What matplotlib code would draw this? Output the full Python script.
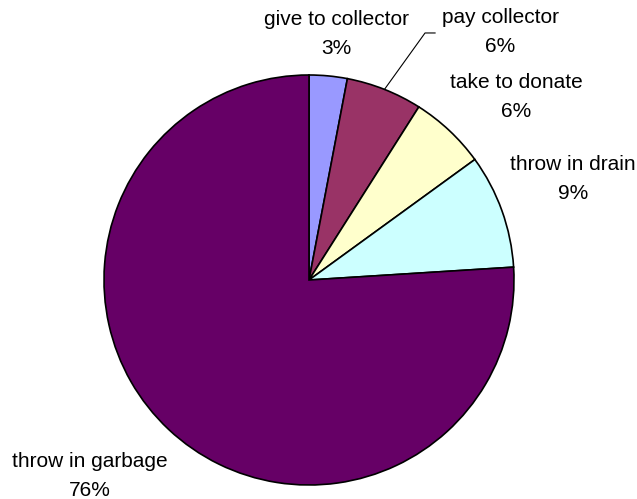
import numpy as np
import matplotlib
matplotlib.use("Agg")
from matplotlib import pyplot as plt

# share of households by what they do with the item
categories = ["give to collector", "pay collector", "take to donate",
              "throw in drain", "throw in garbage"]
percents = [3, 6, 6, 9, 76]
colors = ["#9999FF", "#993366", "#FFFFCC", "#CCFFFF", "#660066"]

# label block centres in axes data units (pie radius = 1)
label_pos = [(0.132, 1.20), (0.932, 1.21), (1.01, 0.893),
             (1.288, 0.493), (-1.068, -0.956)]

plt.rcParams["font.family"] = ["Liberation Sans", "DejaVu Sans"]

fig = plt.figure(figsize=(6.37, 4.99), dpi=100)
ax = fig.add_axes([104 / 637, 14 / 499, 410 / 637, 410 / 499])

wedges, _ = ax.pie(percents, colors=colors, startangle=90, counterclock=False,
                   radius=1, wedgeprops={"edgecolor": "black", "linewidth": 1.2})

# pie() resets the limits, so pin them afterwards
ax.set_xlim(-1, 1)
ax.set_ylim(-1, 1)
ax.set_aspect("equal")
ax.axis("off")

for i, (w, name, pct) in enumerate(zip(wedges, categories, percents)):
    x, y = label_pos[i]
    ax.text(x, y, f"{name}\n{pct}%", ha="center", va="center", fontsize=15,
            linespacing=1.7, clip_on=False)

# leader line for the "pay collector" label
w = wedges[1]
mid = np.deg2rad((w.theta1 + w.theta2) / 2)
ex, ey = np.cos(mid), np.sin(mid)
ax.plot([ex, 0.566, 0.615], [ey, 1.205, 1.205], color="black", linewidth=0.8,
        clip_on=False)

plt.savefig("out.png", dpi=100)
